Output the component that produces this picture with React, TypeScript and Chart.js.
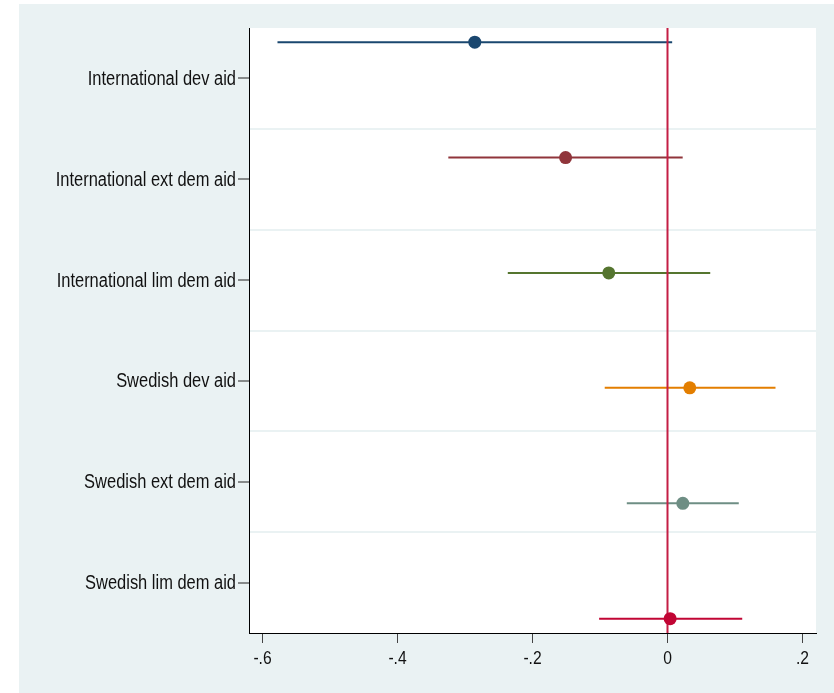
import React, { useEffect, useRef } from "react";
import { Chart, registerables } from "chart.js";

Chart.register(...registerables);

// Coefficient plot: point estimates with confidence intervals per aid type
const categories = [
  "International dev aid",
  "International ext dem aid",
  "International lim dem aid",
  "Swedish dev aid",
  "Swedish ext dem aid",
  "Swedish lim dem aid",
];
const estimates = [-0.2855, -0.151, -0.087, 0.033, 0.0227, 0.0039];
const lowerCI = [-0.5778, -0.3247, -0.2366, -0.093, -0.0603, -0.1013];
const upperCI = [0.0069, 0.0225, 0.0633, 0.16, 0.1056, 0.1107];
// vertical placement of each estimate on the category axis (1 = first label)
const rowPositions = [0.641, 1.785, 2.929, 4.069, 5.214, 6.358];
const seriesColors = ["#1A476F", "#90353B", "#55752F", "#E37E00", "#6E8E84", "#C10534"];
const xTicks = [-0.6, -0.4, -0.2, 0, 0.2];
const yTicks = [0.5, 1, 1.5, 2, 2.5, 3, 3.5, 4, 4.5, 5, 5.5, 6, 6.5];
const referenceX = 0;

const FONT = "'Liberation Sans', Arial, Helvetica, sans-serif";
const REGION_BG = "#EAF2F3";
const TEXT_COLOR = "#111111";
// horizontal squeeze applied to axis text (narrow Helvetica look)
const NARROW = 0.823;

const backdrop = {
  id: "backdrop",
  beforeDraw(chart: any) {
    const { ctx, chartArea } = chart;
    ctx.save();
    ctx.fillStyle = "#ffffff";
    ctx.fillRect(0, 0, chart.width, chart.height);
    ctx.fillStyle = REGION_BG;
    ctx.fillRect(19, 4, chart.width - 19, chart.height - 4);
    ctx.fillStyle = "#ffffff";
    ctx.fillRect(
      chartArea.left,
      chartArea.top,
      chartArea.right - chartArea.left,
      chartArea.bottom - chartArea.top
    );
    ctx.restore();
  },
};

function formatX(v: number): string {
  if (Math.abs(v) < 1e-9) return "0";
  return v.toFixed(1).replace("0.", ".");
}

// Draws the axis tick labels in a condensed face at the scales' tick positions
const narrowLabels = {
  id: "narrowLabels",
  afterDraw(chart: any) {
    const { ctx, chartArea } = chart;
    const xs = chart.scales.x;
    const ys = chart.scales.y;
    ctx.save();
    ctx.fillStyle = TEXT_COLOR;
    ctx.textBaseline = "middle";

    ctx.font = `20px ${FONT}`;
    ctx.textAlign = "right";
    categories.forEach((label, i) => {
      const py = ys.getPixelForValue(i + 1);
      ctx.save();
      ctx.translate(ys.right - 13, py + 1);
      ctx.scale(NARROW, 1);
      ctx.fillText(label, 0, 0);
      ctx.restore();
    });

    ctx.font = `19px ${FONT}`;
    ctx.textAlign = "center";
    xTicks.forEach((v) => {
      const px = xs.getPixelForValue(v);
      ctx.save();
      ctx.translate(px, chartArea.bottom + 26);
      ctx.scale(NARROW, 1);
      ctx.fillText(formatX(v), 0, 0);
      ctx.restore();
    });
    ctx.restore();
  },
};

export default function App() {
  const canvasRef = useRef<HTMLCanvasElement | null>(null);

  useEffect(() => {
    if (!canvasRef.current) return;

    const intervalSets = categories.map((_, i) => ({
      type: "line" as const,
      data: [
        { x: lowerCI[i], y: rowPositions[i] },
        { x: upperCI[i], y: rowPositions[i] },
      ],
      borderColor: seriesColors[i],
      borderWidth: 2,
      pointRadius: 0,
      showLine: true,
      order: 2,
    }));

    const referenceSet = {
      type: "line" as const,
      data: [
        { x: referenceX, y: 0.5 },
        { x: referenceX, y: 6.5 },
      ],
      borderColor: "#C41E45",
      borderWidth: 2,
      pointRadius: 0,
      showLine: true,
      order: 1,
    };

    const pointSet = {
      type: "scatter" as const,
      data: categories.map((_, i) => ({ x: estimates[i], y: rowPositions[i] })),
      pointRadius: 6.5,
      pointBorderWidth: 0,
      pointBackgroundColor: seriesColors,
      backgroundColor: seriesColors,
      order: 0,
    };

    const chart = new Chart(canvasRef.current, {
      type: "scatter",
      data: { datasets: [pointSet, referenceSet, ...intervalSets] as any },
      plugins: [backdrop, narrowLabels],
      options: {
        animation: false,
        responsive: false,
        layout: { padding: { top: 28, right: 18, left: 0, bottom: 0 } },
        plugins: { legend: { display: false }, tooltip: { enabled: false } },
        scales: {
          x: {
            type: "linear",
            min: -0.62,
            max: 0.22,
            afterBuildTicks: (s: any) => {
              s.ticks = xTicks.map((v) => ({ value: v }));
            },
            afterFit: (s: any) => {
              s.height = 60;
            },
            ticks: {
              autoSkip: false,
              maxRotation: 0,
              color: "rgba(0,0,0,0)",
              font: { family: FONT, size: 19 },
              callback: (v: any) => formatX(Number(v)),
            },
            grid: {
              drawOnChartArea: false,
              tickLength: 10,
              tickColor: "#444",
              tickWidth: 1,
            },
            border: { display: true, color: "#000", width: 1 },
          },
          y: {
            type: "linear",
            reverse: true,
            min: 0.5,
            max: 6.5,
            afterBuildTicks: (s: any) => {
              s.ticks = yTicks.map((v) => ({ value: v }));
            },
            afterFit: (s: any) => {
              s.width = 249;
            },
            ticks: {
              autoSkip: false,
              color: "rgba(0,0,0,0)",
              font: { family: FONT, size: 20 },
              callback: (v: any) => {
                const n = Number(v);
                return Number.isInteger(n) ? categories[n - 1] : "";
              },
            },
            grid: {
              color: (c: any) => {
                const v = c.tick ? c.tick.value : 0;
                return !Number.isInteger(v) && v > 0.5 && v < 6.5 ? REGION_BG : "rgba(0,0,0,0)";
              },
              lineWidth: 2,
              tickLength: 11,
              tickWidth: 1,
              tickColor: (c: any) =>
                c.tick && Number.isInteger(c.tick.value) ? "#222" : "rgba(0,0,0,0)",
            },
            border: { display: true, color: "#000", width: 1 },
          },
        },
      } as any,
    });

    return () => chart.destroy();
  }, []);

  return (
    <div style={{ position: "absolute", left: 0, top: 0, width: 834, height: 693 }}>
      <canvas ref={canvasRef} width={834} height={693} style={{ display: "block" }} />
    </div>
  );
}
